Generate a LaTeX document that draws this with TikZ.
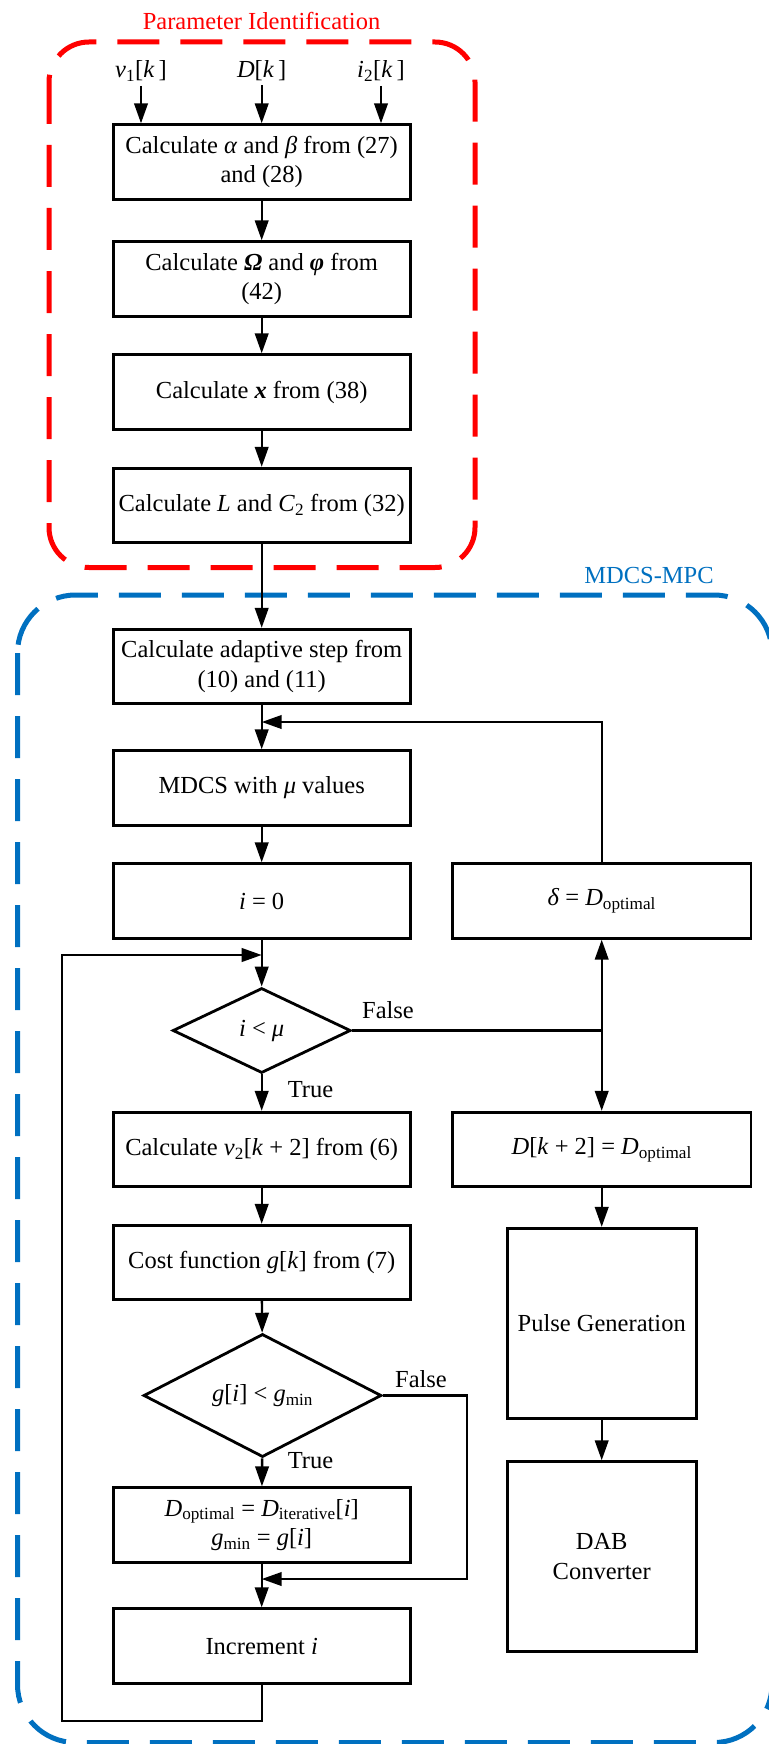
\documentclass[tikz,border=0pt]{standalone}
\usepackage{fontspec}
\setmainfont{Liberation Serif}
\usetikzlibrary{shapes.geometric,arrows.meta}
\definecolor{pired}{RGB}{255,0,0}
\definecolor{mpcblue}{RGB}{0,112,192}
\newcommand{\bx}{\fontsize{24.5}{29.5}\selectfont}
\newcommand{\sbs}[1]{\textsubscript{#1}}
\begin{document}
\begin{tikzpicture}[x=1pt,y=-1pt,
  box/.style={draw, line width=2.8pt, minimum width=297pt, minimum height=74.5pt, inner sep=0pt, align=center, font=\bx},
  dia/.style={draw, diamond, line width=2.8pt, inner sep=0pt, align=center, font=\bx},
  arr/.style={line width=2.4pt, -{Triangle[length=20pt,width=13.5pt]}},
  ln/.style={line width=2.4pt},
  lbl/.style={font=\bx, inner sep=0pt, anchor=base},
  grp/.style={line width=5pt, dash pattern=on 42pt off 21pt}
]
\useasboundingbox (0,0) rectangle (768,1744);

% group frames
\draw[grp, pired, rounded corners=40pt] (49,42) rectangle (475,567.5);
\draw[grp, mpcblue, rounded corners=58pt] (17.5,595) rectangle (772,1742.5);
\node[lbl, text=pired] (tpi) at (261.5,30) {Parameter Identification};
\node[lbl, text=mpcblue] (tmpc) at (649,583) {MDCS-MPC};

% inputs
\node[lbl, inner sep=4pt] (v1) at (141,78) {\textit{v}\sbs{1}[\textit{k}\,]};
\node[lbl, inner sep=4pt] (dk) at (261.7,78) {\textit{D}[\textit{k}\,]};
\node[lbl, inner sep=4pt] (i2) at (381,78) {\textit{i}\sbs{2}[\textit{k}\,]};

% left column
\node[box] (b1) at (261.7,162) {Calculate \textit{α} and \textit{β} from (27)\\and (28)};
\node[box] (b2) at (261.7,279) {Calculate \textbf{\textit{Ω}} and \textbf{\textit{φ}} from\\(42)};
\node[box] (b3) at (261.7,392) {Calculate \textbf{\textit{x}} from (38)};
\node[box] (b4) at (261.7,505.5) {Calculate \textit{L} and \textit{C}\sbs{2} from (32)};
\node[box] (b5) at (261.7,666.5) {Calculate adaptive step from\\(10) and (11)};
\node[box] (b6) at (261.7,788) {MDCS with \textit{μ} values};
\node[box] (b7) at (261.7,901) {\textit{i} = 0};
\node[dia, minimum width=178pt, minimum height=85pt] (d1) at (261.7,1030.5) {\textit{i} < \textit{μ}};
\node[box] (b8) at (261.7,1149.5) {Calculate \textit{v}\sbs{2}[\textit{k} + 2] from (6)};
\node[box] (b9) at (261.7,1262.5) {Cost function \textit{g}[\textit{k}] from (7)};
\node[dia, minimum width=238pt, minimum height=101pt] (d2) at (262.5,1395.5) {\textit{g}[\textit{i}] < \textit{g}\sbs{min}};
\node[box] (b10) at (261.7,1525) {\textit{D}\sbs{optimal} = \textit{D}\sbs{iterative}[\textit{i}]\\\textit{g}\sbs{min} = \textit{g}[\textit{i}]};
\node[box] (b11) at (261.7,1646) {Increment \textit{i}};

% right column
\node[box, minimum width=298.5pt] (delta) at (601.7,901) {\textit{δ} = \textit{D}\sbs{optimal}};
\node[box, minimum width=298.5pt] (dk2) at (601.7,1149.5) {\textit{D}[\textit{k} + 2] = \textit{D}\sbs{optimal}};
\node[box, minimum width=189pt, minimum height=190pt] (pg) at (601.7,1323.3) {Pulse Generation};
\node[box, minimum width=189pt, minimum height=190pt] (dab) at (601.7,1556.7) {DAB\\Converter};

% labels
\node[lbl] (f1) at (388,1018.5) {False};
\node[lbl] (t1) at (310.5,1097) {True};
\node[lbl] (f2) at (421,1387) {False};
\node[lbl] (t2) at (310.5,1468) {True};

% junction coordinates
\coordinate (jfb) at (261.7,722);
\coordinate (jlp) at (261.7,955);
\coordinate (lpb) at (61.7,1720.7);
\coordinate (sp) at (601.7,1030.5);
\coordinate (fc) at (467,1579);
\coordinate (jf2) at (261.7,1579);

% connectors
\draw[arr] (v1) -- (v1 |- b1.north);
\draw[arr] (dk) -- (dk |- b1.north);
\draw[arr] (i2) -- (i2 |- b1.north);
\draw[arr] (b1) -- (b2);
\draw[arr] (b2) -- (b3);
\draw[arr] (b3) -- (b4);
\draw[arr] (b4) -- (b5);
\draw[arr] (b5) -- (b6);
\draw[arr] (b6) -- (b7);
\draw[arr] (b7) -- (d1);
\draw[arr] (d1) -- (b8);
\draw[arr] (b8) -- (b9);
\draw[arr] (b9) -- (d2);
\draw[arr] (d2) -- (b10);
\draw[arr] (b10) -- (b11);
\draw[arr] (delta.north) |- (jfb);
\draw[arr] (b11.south) |- (lpb) |- (jlp);
\draw[ln] (d1.east) -- (sp);
\draw[arr] (sp) -- (delta.south);
\draw[arr] (sp) -- (dk2.north);
\draw[arr] (dk2) -- (pg);
\draw[arr] (pg) -- (dab);
\draw[arr] (d2.east) -| (fc) -- (jf2);
\end{tikzpicture}
\end{document}
